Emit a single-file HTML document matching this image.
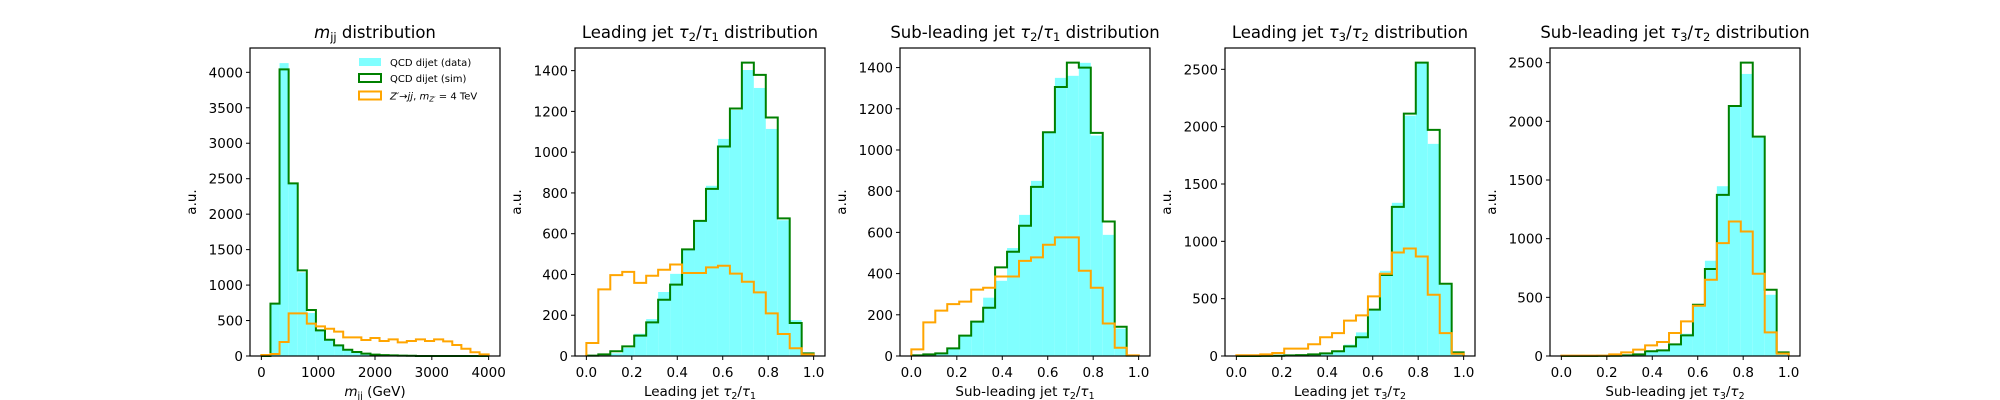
<!DOCTYPE html>
<html><head><meta charset="utf-8">
<style>
html,body{margin:0;padding:0;background:#fff;}
svg{display:block;font-family:"DejaVu Sans","Liberation Sans",sans-serif;}
</style></head>
<body>
<svg id="fig" width="2000" height="400" viewBox="0 0 2000 400" xmlns="http://www.w3.org/2000/svg"></svg>
<script>
// ---- data ----
const mjjData = [0,740,4130,2430,1180,606,360,220,150,95,60,35,20,12,8,6,4,2,1,0,0,0,0,0,0];
const mjjSim = [0,738,4041,2434,1208,648,362,230,150,89,56,33,19,12,8,6,3,0,0,0,0,0,0,0,0];
const mjjSig = [14,28,197,601,601,456,418,385,343,263,263,226,254,211,235,193,211,235,211,235,207,155,103,52,23];

const t21LData = [0,3,13,40,109,181,314,403,520,663,835,1065,1207,1403,1315,1114,666,176,12];
const t21LSim = [2,8,23,47,100,165,276,350,523,663,820,1028,1214,1439,1379,1170,675,162,13];
const t21LSig = [64,327,397,413,359,394,423,449,407,407,435,443,404,364,312,209,108,38,8];

const t21SData = [2,6,12,34,100,165,283,365,524,685,850,1085,1350,1360,1423,1070,588,133,2];
const t21SSim = [3,8,13,37,99,167,234,430,506,632,821,1086,1306,1424,1400,1083,653,142,2];
const t21SSig = [32,163,220,252,264,322,331,386,386,462,479,540,576,576,414,331,158,40,3];

const t32LData = [0,0,1,2,5,8,14,23,45,99,206,400,743,1336,2096,2558,1850,620,30];
const t32LSim = [0,0,1,2,5,8,14,23,41,84,163,404,706,1301,2114,2558,1972,630,32];
const t32LSig = [6,6,14,26,64,64,102,163,200,308,354,520,717,903,938,868,534,200,20];

const t32SData = [0,0,0,1,2,5,14,40,48,105,190,440,812,1447,2131,2404,1860,522,30];
const t32SSim = [0,0,0,1,2,5,14,40,48,99,176,437,741,1373,2131,2500,1870,565,31];
const t32SSig = [3,3,3,3,14,31,54,91,119,196,295,428,650,962,1146,1061,701,201,20];

const mjjXTicks = [0,1000,2000,3000,4000];
const ratioXTicks = [0,0.2,0.4,0.6,0.8,1.0];
const yTicks1 = [0,500,1000,1500,2000,2500,3000,3500,4000];
const yTicks2 = [0,200,400,600,800,1000,1200,1400];
const yTicks4 = [0,500,1000,1500,2000,2500];

const NS = "http://www.w3.org/2000/svg";
const svg = document.getElementById("fig");
function mk(tag, attrs, parent){const e=document.createElementNS(NS,tag);for(const k in attrs)e.setAttribute(k,attrs[k]);(parent||svg).appendChild(e);return e;}

const RB = 1/19;
const panels = [
 {id:"mjj", left:250, xmin:-200, xmax:4200, ymax:4343, e0:0, bw:160, data:mjjData, sim:mjjSim, sig:mjjSig, xt:mjjXTicks, yt:yTicks1, title:"mjj", xlab:"mjj", legend:true, fmt:v=>String(v)},
 {id:"t21-leading", left:575, xmin:-0.05, xmax:1.05, ymax:1511, e0:0, bw:RB, data:t21LData, sim:t21LSim, sig:t21LSig, xt:ratioXTicks, yt:yTicks2, title:["Leading jet ","2","1"," distribution"], xlab:["Leading jet ","2","1"], fmt:v=>v.toFixed(1)},
 {id:"t21-subleading", left:900, xmin:-0.05, xmax:1.05, ymax:1495, e0:0, bw:RB, data:t21SData, sim:t21SSim, sig:t21SSig, xt:ratioXTicks, yt:yTicks2, title:["Sub-leading jet ","2","1"," distribution"], xlab:["Sub-leading jet ","2","1"], fmt:v=>v.toFixed(1)},
 {id:"t32-leading", left:1225, xmin:-0.05, xmax:1.05, ymax:2686, e0:0, bw:RB, data:t32LData, sim:t32LSim, sig:t32LSig, xt:ratioXTicks, yt:yTicks4, title:["Leading jet ","3","2"," distribution"], xlab:["Leading jet ","3","2"], fmt:v=>v.toFixed(1)},
 {id:"t32-subleading", left:1550, xmin:-0.05, xmax:1.05, ymax:2625, e0:0, bw:RB, data:t32SData, sim:t32SSim, sig:t32SSig, xt:ratioXTicks, yt:yTicks4, title:["Sub-leading jet ","3","2"," distribution"], xlab:["Sub-leading jet ","3","2"], fmt:v=>v.toFixed(1)}
];
const TOP=48, BOT=356, W=250;

function tauText(parent, parts){
  parent.appendChild(document.createTextNode(parts[0]));
  mk("tspan",{"font-style":"italic"},parent).textContent="τ";
  mk("tspan",{"font-size":"0.7em","dy":"3"},parent).textContent=parts[1];
  mk("tspan",{"dy":"-3"},parent).textContent="/";
  mk("tspan",{"font-style":"italic"},parent).textContent="τ";
  mk("tspan",{"font-size":"0.7em","dy":"3"},parent).textContent=parts[2];
  if(parts[3]) mk("tspan",{"dy":"-3"},parent).textContent=parts[3];
}
function mjjText(parent, suffix){
  mk("tspan",{"font-style":"italic"},parent).textContent="m";
  mk("tspan",{"font-size":"0.7em","dy":"3"},parent).textContent="jj";
  mk("tspan",{"dy":"-3"},parent).textContent=suffix;
}

panels.forEach(p=>{
  const g = mk("g",{});
  
  
  const X = v => p.left + (v - p.xmin)/(p.xmax - p.xmin)*W;
  const Y = v => BOT - v/p.ymax*(BOT-TOP);
  const edge = i => p.e0 + i*p.bw;
  p.data.forEach((c,i)=>{
    if(c<=0) return;
    const r = mk("rect",{x:X(edge(i)), y:Y(c), width:X(edge(i+1))-X(edge(i)), height:BOT-Y(c), fill:"#80ffff"}, g);
    
    
  });
  function step(arr, color, name){
    let d = "M"+X(edge(0))+","+BOT;
    arr.forEach((c,i)=>{ d += " V"+Y(c)+" H"+X(edge(i+1)); });
    d += " V"+BOT;
    const path = mk("path",{d:d, fill:"none", stroke:color, "stroke-width":2, "stroke-linejoin":"miter"}, g);
    
    
  }
  step(p.sim, "#008000", "sim-step-line");
  step(p.sig, "#ffa500", "signal-step-line");
  const fr = mk("rect",{x:p.left, y:TOP, width:W, height:BOT-TOP, fill:"none", stroke:"#000", "stroke-width":1.2}, g);
  
  
  p.xt.forEach(v=>{
    const x = X(v);
    mk("line",{x1:x,x2:x,y1:BOT,y2:BOT+4,stroke:"#000","stroke-width":1},g);
    const t = mk("text",{x:x, y:377, "text-anchor":"middle","font-size":"13.5"},g);
    t.textContent = p.fmt(v);
    
    
  });
  p.yt.forEach(v=>{
    const y = Y(v);
    mk("line",{x1:p.left-4,x2:p.left,y1:y,y2:y,stroke:"#000","stroke-width":1},g);
    const t = mk("text",{x:p.left-7, y:y+5, "text-anchor":"end","font-size":"13.5"},g);
    t.textContent = String(v);
    
    
  });
  const yl = mk("text",{x:0,y:0,"text-anchor":"middle","font-size":"13.5",transform:"translate("+(p.left-54)+","+((TOP+BOT)/2)+") rotate(-90)"},g);
  yl.textContent="a.u.";
  
  
  const tt = mk("text",{x:p.left+W/2, y:38, "text-anchor":"middle","font-size":"16.5"},g);
  if(p.title==="mjj") mjjText(tt," distribution"); else tauText(tt,p.title);
  
  
  const xl = mk("text",{x:p.left+W/2, y:396, "text-anchor":"middle","font-size":"13.5"},g);
  if(p.xlab==="mjj") mjjText(xl," (GeV)"); else tauText(xl,p.xlab);
  
  
  if(p.legend){
    const lg = mk("g",{},g);
    
    
    const rows=[62,78,95.5];
    const e1 = mk("rect",{x:359,y:rows[0]-4,width:22,height:8,fill:"#80ffff"},lg);
    
    
    const e2 = mk("rect",{x:359,y:rows[1]-4,width:22,height:8,fill:"none",stroke:"#008000","stroke-width":2},lg);
    
    
    const e3 = mk("rect",{x:359,y:rows[2]-4,width:22,height:8,fill:"none",stroke:"#ffa500","stroke-width":2},lg);
    
    
    const l1 = mk("text",{x:390,y:rows[0]+4,"font-size":"10"},lg); l1.textContent="QCD dijet (data)";
    
    
    const l2 = mk("text",{x:390,y:rows[1]+4,"font-size":"10"},lg); l2.textContent="QCD dijet (sim)";
    
    
    const l3 = mk("text",{x:390,y:rows[2]+4,"font-size":"10"},lg);
    mk("tspan",{"font-style":"italic"},l3).textContent="Z′";
    l3.appendChild(document.createTextNode("→"));
    mk("tspan",{"font-style":"italic"},l3).textContent="jj";
    l3.appendChild(document.createTextNode(", "));
    mk("tspan",{"font-style":"italic"},l3).textContent="m";
    mk("tspan",{"font-size":"0.7em","dy":"2","font-style":"italic"},l3).textContent="Z′";
    mk("tspan",{"dy":"-2"},l3).textContent=" = 4 TeV";
    
    
  }
});
</script>
</body></html>
